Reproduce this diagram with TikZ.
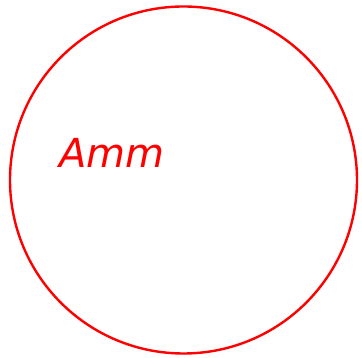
\documentclass[tikz,border=0pt]{standalone}
\usepackage{fontspec}
\setmainfont{DejaVu Sans}
\begin{document}
\begin{tikzpicture}[x=1pt,y=1pt,
  ring/.style={draw=red, line width=2.4pt, circle, minimum size=347pt, inner sep=0pt},
  lbl/.style={text=red, font=\fontsize{40}{48}\selectfont\itshape, inner sep=0pt, anchor=base west}]
\useasboundingbox (0,0) rectangle (362,358);
\node[ring] (c) at (183.5,178) {};
\node[lbl] (t) at (59,190) {Amm};
\end{tikzpicture}
\end{document}
